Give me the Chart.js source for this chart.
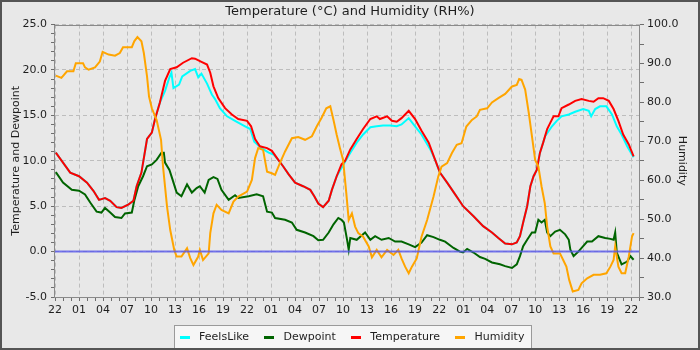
<!DOCTYPE html>
<html>
<head>
<meta charset="utf-8">
<script src="https://cdn.jsdelivr.net/npm/chart.js@4.4.1/dist/chart.umd.min.js"></script>
<style>
  html, body { margin: 0; padding: 0; background: #e8e8e8; }
</style>
</head>
<body>
<canvas id="chart" width="700" height="350"></canvas>
<script>
// hours counted from 22:00 on the first day
const firstHour = 22;
const hourMax = 73.1;

const tempHours = [0.1, 1, 1.9, 3, 4, 4.8, 5.5, 6.25, 6.9, 7.7, 8.3, 9.2, 9.8, 10.2, 10.8, 11.5, 12.1, 12.5, 13.1, 13.75, 14.4, 15.2, 16, 17.1, 17.5, 18.3, 19, 19.4, 19.8, 20.4, 21.25, 22.1, 22.9, 24, 24.5, 25, 25.6, 26.5, 27.1, 27.9, 28.5, 29.2, 30, 31, 31.9, 32.4, 32.9, 33.5, 34.2, 34.6, 35.2, 35.8, 36.25, 36.9, 37.7, 38.5, 39.4, 40.2, 40.6, 41.5, 42.1, 42.7, 43.3, 44.2, 45, 45.8, 46.7, 47.5, 48.1, 49, 50, 51, 52.3, 53.5, 54.6, 55.4, 56.25, 57.1, 57.7, 58.1, 58.5, 59, 59.4, 59.8, 60.2, 60.6, 61, 61.5, 61.9, 62.3, 62.9, 63.3, 64.2, 65, 65.8, 66.7, 67.3, 67.9, 68.5, 69.2, 69.8, 70.4, 71, 71.7, 72.3];
const tempValues = [10.9, 9.8, 8.7, 8.3, 7.6, 6.7, 5.7, 5.9, 5.6, 4.9, 4.8, 5.2, 5.6, 7.2, 8.7, 12.4, 13.1, 14.6, 16.4, 18.8, 20.1, 20.3, 20.8, 21.3, 21.25, 20.9, 20.6, 19.7, 18.2, 16.9, 15.8, 15.1, 14.6, 14.4, 13.8, 12.4, 11.6, 11.4, 11.1, 10.1, 9.4, 8.5, 7.6, 7.2, 6.8, 6.1, 5.3, 4.9, 5.6, 6.8, 8.3, 9.6, 10.0, 11.25, 12.4, 13.5, 14.6, 14.9, 14.6, 14.9, 14.4, 14.3, 14.7, 15.5, 14.6, 13.3, 12.0, 10.1, 8.7, 7.6, 6.3, 5.0, 3.9, 2.8, 2.1, 1.5, 0.9, 0.8, 1.0, 1.7, 3.2, 5.0, 7.2, 8.3, 9.0, 10.9, 12.0, 13.5, 14.2, 14.9, 14.9, 15.8, 16.2, 16.6, 16.8, 16.6, 16.5, 16.9, 16.9, 16.6, 15.7, 14.4, 12.9, 11.8, 10.5];

const feelsHours = [0.1, 1, 1.9, 3, 4, 4.8, 5.5, 6.25, 6.9, 7.7, 8.3, 9.2, 9.8, 10.2, 10.8, 11.5, 12.1, 12.5, 13.1, 13.75, 14.3, 14.55, 14.8, 15.5, 15.9, 16.9, 17.5, 17.9, 18.3, 19, 19.6, 20, 20.6, 21.5, 22.5, 23.75, 24.4, 24.9, 25.8, 26.7, 27.3, 27.9, 28.5, 29.2, 30, 31, 31.9, 32.4, 32.9, 33.5, 34.2, 34.6, 35.2, 35.6, 36.9, 37.7, 38.5, 39.4, 40.2, 41, 41.9, 42.7, 43.3, 44.2, 45, 45.8, 46.9, 47.5, 48.1, 49, 50, 51, 52.3, 53.5, 54.6, 55.4, 56.25, 57.1, 57.7, 58.1, 58.5, 59, 59.4, 59.8, 60.2, 60.6, 61.25, 62.1, 62.7, 63.3, 64.2, 65, 66, 66.7, 67, 67.5, 68.1, 68.9, 69.6, 70.2, 70.8, 71.5, 72.1, 72.3];
const feelsValues = [10.9, 9.8, 8.7, 8.3, 7.6, 6.7, 5.7, 5.9, 5.6, 4.9, 4.8, 5.2, 5.6, 7.2, 8.7, 12.4, 13.1, 14.6, 16.4, 17.7, 19.2, 19.7, 18.0, 18.4, 19.3, 19.9, 20.1, 19.2, 19.6, 18.5, 17.3, 16.8, 15.8, 14.9, 14.4, 13.8, 13.5, 12.1, 11.4, 10.9, 10.7, 10.1, 9.4, 8.5, 7.6, 7.2, 6.8, 6.1, 5.3, 4.9, 5.6, 6.8, 8.3, 8.9, 10.9, 12.0, 12.9, 13.7, 13.8, 13.9, 13.9, 13.8, 14.0, 14.7, 13.8, 12.9, 11.25, 10.1, 8.7, 7.6, 6.3, 5.0, 3.9, 2.8, 2.1, 1.5, 0.9, 0.8, 1.0, 1.7, 3.2, 5.0, 7.2, 8.3, 9.0, 10.9, 12.7, 13.8, 14.4, 14.9, 15.1, 15.4, 15.7, 15.5, 14.9, 15.7, 16.0, 16.0, 15.1, 13.8, 12.9, 11.6, 10.7, 10.4];

const dewHours = [0.1, 1, 2.1, 3, 3.75, 4.4, 5.2, 5.8, 6.25, 6.9, 7.5, 8.3, 8.75, 9.6, 9.9, 10.4, 11, 11.5, 12.1, 12.7, 13.3, 13.6, 13.75, 14.3, 14.7, 15.2, 15.8, 16.5, 17.1, 17.7, 18.1, 18.7, 19.2, 19.8, 20.3, 20.8, 21.7, 22.5, 22.9, 24.2, 25.2, 26, 26.5, 27.1, 27.5, 28.75, 29.6, 30.2, 31.25, 32.3, 32.9, 33.5, 34.2, 34.8, 35.4, 35.8, 36.1, 36.5, 36.7, 36.9, 37.7, 38.75, 39.4, 40, 40.8, 41.7, 42.5, 43.3, 44.2, 45, 45.8, 46.5, 47.3, 48.1, 48.75, 49.8, 50.6, 51, 51.5, 52.3, 53.1, 53.75, 54.6, 55.6, 56.25, 57.1, 57.7, 58.1, 58.5, 59, 59.6, 60, 60.4, 60.8, 61.2, 61.5, 61.9, 62.5, 63.1, 63.75, 64.2, 64.4, 64.8, 65.4, 66, 66.5, 67.1, 67.9, 68.75, 69.4, 69.8, 70, 70.2, 70.8, 71.5, 71.9, 72.3];
const dewValues = [8.75, 7.6, 6.8, 6.7, 6.3, 5.4, 4.4, 4.3, 4.8, 4.3, 3.8, 3.7, 4.2, 4.3, 5.6, 7.2, 8.3, 9.4, 9.6, 10.1, 10.9, 10.9, 9.8, 9.0, 7.9, 6.5, 6.1, 7.4, 6.5, 7.0, 7.2, 6.5, 7.9, 8.2, 8.0, 6.8, 5.7, 6.2, 5.9, 6.1, 6.3, 6.1, 4.4, 4.3, 3.7, 3.5, 3.2, 2.4, 2.1, 1.7, 1.25, 1.3, 2.1, 3.0, 3.7, 3.5, 3.2, 1.3, 0.2, 1.5, 1.3, 2.1, 1.3, 1.7, 1.3, 1.5, 1.1, 1.1, 0.8, 0.5, 1.0, 1.8, 1.6, 1.3, 1.1, 0.4, 0.0, -0.1, 0.3, -0.1, -0.6, -0.8, -1.2, -1.4, -1.6, -1.8, -1.4, -0.5, 0.6, 1.3, 2.1, 2.1, 3.5, 3.2, 3.5, 2.1, 1.7, 2.2, 2.4, 1.9, 1.3, 0.2, -0.5, 0.0, 0.6, 1.1, 1.1, 1.7, 1.5, 1.4, 1.3, 2.1, -0.1, -1.4, -1.1, -0.5, -0.9];

const humHours = [0.1, 0.8, 1.5, 2.3, 2.6, 3.5, 3.75, 4.2, 5, 5.6, 5.95, 6.7, 7.5, 8.1, 8.5, 9.6, 9.9, 10.3, 10.8, 11.1, 11.5, 11.75, 12.1, 12.7, 13.25, 13.5, 14, 14.4, 14.9, 15.2, 15.8, 16.5, 16.9, 17.3, 17.9, 18.1, 18.5, 19.2, 19.4, 19.8, 20.2, 20.8, 21.7, 22.3, 22.9, 24, 24.6, 25, 25.4, 26, 26.5, 27.1, 27.5, 28.1, 28.75, 29.6, 30.4, 31.25, 32.1, 32.7, 33.3, 33.9, 34.4, 34.8, 35.2, 35.6, 36, 36.4, 36.7, 37.1, 37.5, 37.9, 38.5, 39.2, 39.6, 40.2, 40.8, 41.5, 42.3, 42.9, 43.3, 43.75, 44.2, 44.6, 45.2, 45.8, 46.5, 47.3, 47.9, 48.3, 49, 49.6, 50.2, 50.8, 51.4, 52.1, 52.7, 53.1, 54, 54.6, 55.4, 56.25, 57.1, 57.7, 58, 58.3, 58.75, 59.2, 59.6, 60, 60.4, 60.8, 61.2, 61.5, 61.9, 62.3, 63.1, 63.5, 63.9, 64.25, 64.7, 65.4, 65.8, 66.5, 67.3, 68.1, 68.9, 69.4, 69.8, 70, 70.4, 70.8, 71.25, 71.7, 72.1, 72.3];
const humValues = [86.9, 86.3, 88, 88, 90.1, 90.1, 89, 88.4, 89, 90.5, 93, 92.3, 92, 92.7, 94.2, 94.2, 95.7, 96.8, 95.7, 92.7, 86.7, 81.5, 78.5, 75.5, 70.4, 63.5, 53.2, 47.2, 42.1, 40.4, 40.4, 42.5, 40, 38.2, 40.4, 42.1, 39.5, 41.2, 46.4, 51.5, 53.7, 52.4, 51.5, 54.5, 55.8, 57.1, 60.1, 65.7, 68.3, 67.8, 62.2, 61.8, 61.4, 64.4, 67.4, 70.8, 71.1, 70.4, 71.3, 73.8, 76, 78.5, 79, 75.5, 71.7, 68.3, 65.2, 56.7, 49.8, 51.5, 48.1, 46.4, 45.5, 43, 40.2, 42.1, 40.2, 42.1, 40.8, 42.1, 39.9, 37.8, 36.1, 37.8, 39.9, 45.5, 49.8, 55.8, 61, 63.5, 64.4, 67, 69.1, 69.5, 73.8, 75.5, 76.4, 78.1, 78.5, 80, 81.1, 82.2, 84.1, 84.5, 86, 85.8, 83.3, 77.3, 71.3, 65.2, 63.5, 58.4, 54.1, 48.1, 43, 41.2, 41.2, 39.5, 37.8, 34.4, 31.4, 31.8, 33.5, 34.8, 35.7, 35.7, 36.1, 37.8, 39.5, 43, 37.8, 36.1, 36.1, 40.4, 45.5, 46.4];

const zeroHours = [0, hourMax];
const zeroValues = [0, 0];

const gridColor = '#bdbdbd';
const textColor = '#1e1e1e';
const font = { family: 'DejaVu Sans', size: 11 };

const points = (hours, values) => hours.map((h, i) => ({ x: h, y: values[i] }));
const pad2 = n => String(n).padStart(2, '0');

const series = (label, hours, values, color, axis, order) => ({
  label,
  data: points(hours, values),
  borderColor: color,
  backgroundColor: color,
  borderWidth: 2,
  pointRadius: 0,
  tension: 0,
  yAxisID: axis,
  order
});

// short thick dash used as the legend marker
const swatch = color => {
  const c = document.createElement('canvas');
  c.width = 10;
  c.height = 3;
  const g = c.getContext('2d');
  g.fillStyle = color;
  g.fillRect(0, 0, 10, 3);
  return c;
};

// background, legend box, plot outline and outer frame
const decor = {
  id: 'decor',
  beforeDraw(chart) {
    const { ctx, width, height } = chart;
    ctx.save();
    ctx.fillStyle = '#e8e8e8';
    ctx.fillRect(0, 0, width, height);
    const boxes = chart.legend.legendHitBoxes;
    if (boxes && boxes.length) {
      const l = Math.round(Math.min(...boxes.map(b => b.left))) - 2;
      const r = Math.round(Math.max(...boxes.map(b => b.left + b.width))) + 7;
      const t = Math.round(Math.min(...boxes.map(b => b.top))) - 7;
      const btm = Math.round(Math.max(...boxes.map(b => b.top + b.height))) + 5;
      ctx.fillStyle = '#f6f6f6';
      ctx.fillRect(l, t, r - l, btm - t);
      ctx.strokeStyle = '#9a9a9a';
      ctx.lineWidth = 1;
      ctx.strokeRect(l + 0.5, t + 0.5, r - l, btm - t);
    }
    ctx.restore();
  },
  afterDraw(chart) {
    const { ctx, chartArea: a, width, height } = chart;
    ctx.save();
    ctx.strokeStyle = '#8a8a8a';
    ctx.lineWidth = 1;
    ctx.strokeRect(Math.round(a.left) - 0.5, Math.round(a.top) + 0.5, Math.round(a.right - a.left), Math.round(a.bottom - a.top));
    ctx.strokeStyle = '#555555';
    ctx.lineWidth = 2;
    ctx.strokeRect(1, 1, width - 2, height - 2);
    ctx.restore();
  }
};

new Chart(document.getElementById('chart'), {
  type: 'line',
  data: {
    datasets: [
      series('FeelsLike', feelsHours, feelsValues, '#00ffff', 'yTemp', 4),
      series('Dewpoint', dewHours, dewValues, '#006400', 'yTemp', 3),
      series('Temperature', tempHours, tempValues, '#ff0000', 'yTemp', 2),
      series('Humidity', humHours, humValues, '#ffa500', 'yHum', 1),
      series('', zeroHours, zeroValues, 'rgba(85, 85, 235, 0.8)', 'yTemp', 0)
    ]
  },
  options: {
    responsive: false,
    animation: false,
    layout: { padding: 0 },
    plugins: {
      title: {
        display: true,
        text: 'Temperature (°C) and Humidity (RH%)',
        color: textColor,
        font: { family: 'DejaVu Sans', size: 13, weight: 'normal' },
        padding: { top: 4, bottom: 5 }
      },
      legend: {
        position: 'bottom',
        maxHeight: 29.5,
        labels: {
          usePointStyle: true,
          pointStyleWidth: 18,
          padding: 11,
          color: textColor,
          font,
          filter: item => item.text !== '',
          sort: (a, b) => a.datasetIndex - b.datasetIndex,
          generateLabels(chart) {
            const items = Chart.defaults.plugins.legend.labels.generateLabels(chart);
            items.forEach(it => { it.pointStyle = swatch(it.strokeStyle); });
            return items;
          }
        }
      },
      tooltip: { enabled: false }
    },
    scales: {
      x: {
        type: 'linear',
        min: 0,
        max: hourMax,
        ticks: {
          stepSize: 1,
          autoSkip: false,
          maxRotation: 0,
          includeBounds: false,
          padding: 3,
          color: textColor,
          font,
          callback: v => (v % 3 === 0 ? pad2((firstHour + v) % 24) : '')
        },
        grid: {
          color: c => (c.tick && c.tick.value % 3 === 0 ? gridColor : 'transparent'),
          tickColor: '#6e6e6e',
          tickLength: 4
        },
        border: { display: false, dash: [4, 3] },
        afterFit: s => { s.height = 23.5; }
      },
      yTemp: {
        position: 'left',
        min: -5,
        max: 25,
        ticks: {
          stepSize: 1,
          autoSkip: false,
          padding: 4,
          color: textColor,
          font,
          callback: v => (v % 5 === 0 ? v.toFixed(1) : '')
        },
        grid: {
          color: c => (c.tick && c.tick.value % 5 === 0 ? gridColor : 'transparent'),
          tickColor: '#6e6e6e',
          tickLength: 4
        },
        border: { display: false, dash: [4, 3] },
        title: {
          display: true,
          text: 'Temperature and Dewpoint',
          color: textColor,
          font,
          padding: { top: 10, bottom: 0 }
        },
        afterFit: s => { s.width = 55; }
      },
      yHum: {
        position: 'right',
        min: 30,
        max: 100,
        ticks: {
          stepSize: 5,
          autoSkip: false,
          padding: 3,
          color: textColor,
          font,
          callback: v => (v % 10 === 0 ? v.toFixed(1) : '')
        },
        grid: { drawOnChartArea: false, tickColor: '#6e6e6e', tickLength: 4 },
        border: { display: false },
        title: {
          display: true,
          text: 'Humidity',
          color: textColor,
          font,
          padding: { top: 12, bottom: 0 }
        },
        afterFit: s => { s.width = 60; }
      }
    }
  },
  plugins: [decor]
});
</script>
</body>
</html>
